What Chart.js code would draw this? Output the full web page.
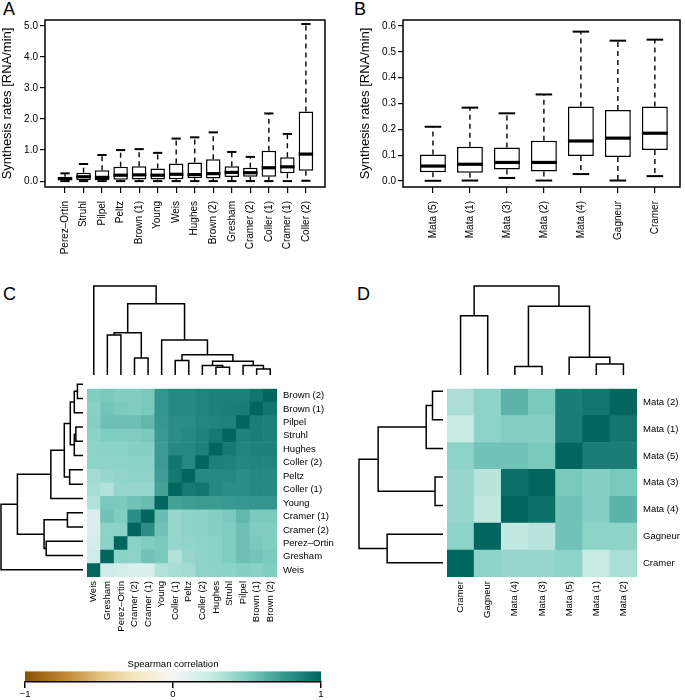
<!DOCTYPE html>
<html>
<head>
<meta charset="utf-8">
<script src="https://cdn.jsdelivr.net/npm/chart.js@4.4.1/dist/chart.umd.min.js"></script>
<style>
  body { margin: 0; background: #fff; }
  #fig { position: relative; width: 685px; height: 700px; overflow: hidden; }
  #fig canvas, .tag { position: absolute; }
  .tag { font: 18px "Liberation Sans", Arial, sans-serif; line-height: 1; }
</style>
</head>
<body>
<div id="fig">
  <div class="tag" style="left:3px;top:0">A</div>
  <div class="tag" style="left:354px;top:0">B</div>
  <div class="tag" style="left:3px;top:285px">C</div>
  <div class="tag" style="left:357px;top:285px">D</div>
  <canvas id="boxA" width="335" height="290" style="left:0;top:0"></canvas>
  <canvas id="boxB" width="327" height="290" style="left:358px;top:0"></canvas>
  <canvas id="treeTopC" width="196" height="95" style="left:84px;top:283px"></canvas>
  <canvas id="treeLeftC" width="86" height="206" style="left:0;top:374px"></canvas>
  <canvas id="heatC" width="250" height="265" style="left:87px;top:377px"></canvas>
  <canvas id="treeTopD" width="196" height="95" style="left:444px;top:283px"></canvas>
  <canvas id="treeLeftD" width="90" height="206" style="left:356px;top:374px"></canvas>
  <canvas id="heatD" width="238" height="265" style="left:447px;top:377px"></canvas>
  <canvas id="cbar" width="340" height="45" style="left:0;top:655px"></canvas>
</div>
<script>
/* ===== A: synthesis rates of the published data sets ===== */
const namesA = ["Perez–Ortin", "Struhl", "Pilpel", "Peltz", "Brown (1)", "Young", "Weis",
                "Hughes", "Brown (2)", "Gresham", "Cramer (2)", "Coller (1)", "Cramer (1)", "Coller (2)"];
const loA  = [0, 0, 0, 0, 0, 0, 0, 0, 0, 0, 0, 0, 0, 0.01];
const q1A  = [0.03, 0.03, 0.03, 0.04, 0.05, 0.05, 0.06, 0.09, 0.08, 0.13, 0.14, 0.14, 0.25, 0.33];
const medA = [0.08, 0.14, 0.12, 0.19, 0.20, 0.19, 0.22, 0.21, 0.24, 0.28, 0.27, 0.43, 0.46, 0.87];
const q3A  = [0.14, 0.27, 0.35, 0.46, 0.48, 0.41, 0.57, 0.60, 0.70, 0.48, 0.43, 0.98, 0.77, 2.24];
const hiA  = [0.25, 0.55, 0.84, 1.00, 1.03, 0.91, 1.37, 1.41, 1.57, 0.94, 0.78, 2.18, 1.52, 5.06];
const ticksA = [0, 1, 2, 3, 4, 5];

/* ===== B: synthesis rates, Mata et al. and others ===== */
const namesB = ["Mata (5)", "Mata (1)", "Mata (3)", "Mata (2)", "Mata (4)", "Gagneur", "Cramer"];
const loB  = [0.001, 0.002, 0.012, 0.002, 0.027, 0.002, 0.019];
const q1B  = [0.034, 0.032, 0.045, 0.037, 0.097, 0.093, 0.120];
const medB = [0.058, 0.065, 0.072, 0.072, 0.155, 0.166, 0.185];
const q3B  = [0.103, 0.133, 0.130, 0.156, 0.288, 0.275, 0.288];
const hiB  = [0.210, 0.284, 0.262, 0.335, 0.578, 0.543, 0.547];
const ticksB = [0, 0.1, 0.2, 0.3, 0.4, 0.5, 0.6];

/* ===== C: Spearman correlation, columns left->right, rows top->bottom ===== */
const colsC = ["Weis", "Gresham", "Perez–Ortin", "Cramer (2)", "Cramer (1)", "Young", "Coller (1)",
               "Peltz", "Coller (2)", "Hughes", "Struhl", "Pilpel", "Brown (1)", "Brown (2)"];
const rowsC = ["Brown (2)", "Brown (1)", "Pilpel", "Struhl", "Hughes", "Coller (2)", "Peltz",
               "Coller (1)", "Young", "Cramer (1)", "Cramer (2)", "Perez–Ortin", "Gresham", "Weis"];
const corrC = [
  [.50, .52, .50, .50, .52, .76, .82, .82, .84, .86, .86, .86, .92, 1],
  [.47, .54, .52, .50, .52, .76, .82, .82, .84, .86, .87, .88, 1, .92],
  [.48, .56, .56, .56, .60, .75, .80, .80, .83, .84, .85, 1, .88, .86],
  [.46, .50, .50, .50, .52, .74, .80, .82, .85, .90, 1, .85, .87, .86],
  [.45, .46, .46, .48, .48, .73, .82, .82, .86, 1, .90, .84, .86, .86],
  [.45, .45, .45, .46, .46, .73, .92, .82, 1, .86, .85, .83, .84, .84],
  [.38, .42, .44, .45, .45, .72, .90, 1, .82, .82, .82, .80, .82, .82],
  [.36, .32, .42, .42, .42, .70, 1, .90, .92, .82, .80, .80, .82, .82],
  [.32, .52, .52, .55, .58, 1, .70, .72, .73, .73, .74, .75, .76, .76],
  [.13, .55, .50, .80, 1, .58, .42, .45, .46, .48, .52, .60, .52, .52],
  [.13, .45, .46, 1, .80, .55, .42, .45, .46, .48, .50, .56, .50, .50],
  [.18, .46, 1, .46, .50, .52, .42, .44, .45, .46, .50, .56, .52, .50],
  [.20, 1, .46, .45, .55, .52, .32, .42, .45, .46, .50, .56, .54, .52],
  [1, .20, .18, .13, .13, .32, .36, .38, .45, .45, .46, .48, .47, .50]
];
// hclust style: negative = leaf (column index + 1), positive = earlier merge
const mergeC  = [[-13, -14], [-10, -11], [-9, 2], [-12, 1], [3, 4], [-7, -8], [-4, -5],
                 [6, 5], [-6, 8], [-2, -3], [10, 7], [11, 9], [-1, 12]];
const heightC = [0.068, 0.087, 0.106, 0.106, 0.155, 0.163, 0.19, 0.228, 0.392, 0.449, 0.475, 0.80, 1.0];

/* ===== D ===== */
const colsD = ["Cramer", "Gagneur", "Mata (4)", "Mata (3)", "Mata (5)", "Mata (1)", "Mata (2)"];
const rowsD = ["Mata (2)", "Mata (1)", "Mata (5)", "Mata (3)", "Mata (4)", "Gagneur", "Cramer"];
const corrD = [
  [.35, .45, .62, .52, .88, .92, 1],
  [.25, .45, .48, .48, .88, 1, .92],
  [.45, .55, .55, .52, 1, .88, .88],
  [.42, .30, .95, 1, .52, .48, .52],
  [.42, .27, 1, .95, .55, .48, .62],
  [.45, 1, .27, .30, .55, .45, .45],
  [1, .45, .42, .42, .45, .25, .35]
];
const mergeD  = [[-3, -4], [-6, -7], [-5, 2], [-1, -2], [1, 3], [4, 5]];
const heightD = [0.095, 0.125, 0.20, 0.665, 0.772, 1.0];

/* ===== colour key ===== */
const palStops  = [-1, -0.75, -0.5, -0.25, 0, 0.25, 0.5, 0.75, 1];
const palColors = ["#8c510a", "#bf812d", "#dfc27d", "#f6e8c3", "#f5f5f5", "#c7eae5", "#80cdc1", "#35978f", "#01665e"];
const ticksKey  = [-1, 0, 1];

Chart.defaults.font.family = '"Liberation Sans", Arial, sans-serif';
Chart.defaults.color = "#000";

const hexRgb = h => [1, 3, 5].map(i => parseInt(h.slice(i, i + 2), 16));
function corrColor(v) {
  let i = 0;
  while (i < palStops.length - 2 && v > palStops[i + 1]) i++;
  const t = (v - palStops[i]) / (palStops[i + 1] - palStops[i]);
  const a = hexRgb(palColors[i]), b = hexRgb(palColors[i + 1]);
  return `rgb(${a.map((c, k) => Math.round(c + (b[k] - c) * t)).join(",")})`;
}

const frame = {
  id: "frame",
  afterDraw(chart) {
    const { ctx, chartArea: a } = chart;
    ctx.save();
    ctx.strokeStyle = "#000"; ctx.lineWidth = 1.5;
    ctx.strokeRect(a.left, a.top, a.right - a.left, a.bottom - a.top);
    ctx.restore();
  }
};

function boxChart(id, names, lo, q1, med, q3, hi, yTicks, yMin, yMax, xMin, xMax, barPct, padR) {
  const whiskers = {
    id: "whiskers",
    afterDatasetsDraw(chart) {
      const { ctx, scales: { x, y } } = chart;
      const bars = chart.getDatasetMeta(0).data;
      const seg = (x0, y0, x1, y1) => { ctx.beginPath(); ctx.moveTo(x0, y0); ctx.lineTo(x1, y1); ctx.stroke(); };
      ctx.save();
      ctx.strokeStyle = "#000";
      names.forEach((n, i) => {
        const cx = x.getPixelForValue(i), w = bars[i].width;
        ctx.setLineDash([5, 4]); ctx.lineWidth = 1.4;
        seg(cx, y.getPixelForValue(q3[i]), cx, y.getPixelForValue(hi[i]));
        seg(cx, y.getPixelForValue(q1[i]), cx, y.getPixelForValue(lo[i]));
        ctx.setLineDash([]); ctx.lineWidth = 2;
        [lo[i], hi[i]].forEach(v => seg(cx - w * 0.32, y.getPixelForValue(v), cx + w * 0.32, y.getPixelForValue(v)));
        ctx.lineWidth = 3.2;
        seg(cx - w / 2, y.getPixelForValue(med[i]), cx + w / 2, y.getPixelForValue(med[i]));
      });
      ctx.restore();
    }
  };
  new Chart(id, {
    type: "bar",
    data: {
      datasets: [{
        data: names.map((n, i) => ({ x: i, y: [q1[i], q3[i]] })),
        backgroundColor: "#fff", borderColor: "#000", borderWidth: 1.5, borderSkipped: false,
        barPercentage: barPct, categoryPercentage: 1
      }]
    },
    options: {
      responsive: false, animation: false, events: [],
      layout: { padding: { top: 20, right: padR, left: 0, bottom: 0 } },
      plugins: { legend: { display: false }, tooltip: { enabled: false } },
      scales: {
        x: {
          type: "linear", min: xMin, max: xMax, offset: false,
          afterBuildTicks: s => { s.ticks = names.map((n, i) => ({ value: i })); },
          afterFit: s => { s.height = 103; },
          ticks: { callback: v => names[v], autoSkip: false, minRotation: 90, maxRotation: 90, padding: 8, font: { size: 10 } },
          grid: { offset: false, drawOnChartArea: false, tickLength: 6, color: "#000", lineWidth: 1.2 },
          border: { display: false }
        },
        y: {
          min: yMin, max: yMax,
          afterBuildTicks: s => { s.ticks = yTicks.map(v => ({ value: v })); },
          afterFit: s => { s.width = 45; },
          ticks: { callback: v => v.toFixed(1), padding: 2, font: { size: 10 } },
          grid: { drawOnChartArea: false, tickLength: 5, color: "#000", lineWidth: 1.2 },
          border: { display: false },
          title: { display: true, text: "Synthesis rates [RNA/min]", font: { size: 13 }, padding: 0 }
        }
      }
    },
    plugins: [frame, whiskers]
  });
}

function heatChart(id, cols, rows, corr, rightW) {
  new Chart(id, {
    type: "bar",
    data: {
      labels: cols,
      datasets: rows.map((r, k) => ({
        label: r,
        data: cols.map(() => 1),
        backgroundColor: corr[k].map(corrColor),
        borderWidth: 0, barPercentage: 1, categoryPercentage: 1
      })).reverse()
    },
    options: {
      responsive: false, animation: false, events: [],
      layout: { padding: 0 },
      plugins: { legend: { display: false }, tooltip: { enabled: false } },
      scales: {
        x: {
          stacked: true,
          afterFit: s => { s.height = 65; },
          ticks: { autoSkip: false, minRotation: 90, maxRotation: 90, padding: 4, font: { size: 9.5 } },
          grid: { display: false, drawTicks: false }, border: { display: false }
        },
        y: {
          stacked: true, position: "right", min: 0, max: rows.length,
          afterBuildTicks: s => { s.ticks = rows.map((r, k) => ({ value: k + 0.5 })); },
          afterFit: s => { s.width = rightW; },
          ticks: { callback: (v, i) => rows[rows.length - 1 - i], padding: 6, font: { size: 9.5 } },
          grid: { display: false, drawTicks: false }, border: { display: false }
        }
      }
    }
  });
}

function treeChart(id, merge, heights, nLeaves, top, pad) {
  const pos = [], hgt = [];
  const datasets = merge.map(([a, b], m) => {
    const pa = a < 0 ? -a - 1 : pos[a - 1], ha = a < 0 ? 0 : hgt[a - 1];
    const pb = b < 0 ? -b - 1 : pos[b - 1], hb = b < 0 ? 0 : hgt[b - 1];
    const h = heights[m];
    pos[m] = (pa + pb) / 2; hgt[m] = h;
    const pts = [[pa, ha], [pa, h], [pb, h], [pb, hb]];
    return {
      data: pts.map(([p, v]) => top ? { x: p, y: v } : { x: v, y: p }),
      showLine: true, borderColor: "#000", borderWidth: 1.5, pointRadius: 0, clip: false
    };
  });
  const leafAxis = { min: -0.5, max: nLeaves - 0.5, display: false };
  const hAxis = { min: 0, max: 1, display: false, reverse: !top };
  new Chart(id, {
    type: "scatter",
    data: { datasets },
    options: {
      responsive: false, animation: false, events: [],
      layout: { padding: pad },
      plugins: { legend: { display: false }, tooltip: { enabled: false } },
      scales: top ? { x: leafAxis, y: hAxis } : { x: hAxis, y: leafAxis }
    }
  });
}

const gradient = {
  id: "gradient",
  beforeDraw(chart) {
    const { ctx, chartArea: a, scales: { x } } = chart;
    const g = ctx.createLinearGradient(x.getPixelForValue(palStops[0]), 0, x.getPixelForValue(palStops[palStops.length - 1]), 0);
    palStops.forEach((s, i) => g.addColorStop((s - palStops[0]) / (palStops[palStops.length - 1] - palStops[0]), palColors[i]));
    ctx.save();
    ctx.fillStyle = g;
    ctx.fillRect(a.left, a.top, a.right - a.left, a.bottom - a.top);
    ctx.restore();
  }
};

boxChart("boxA", namesA, loA, q1A, medA, q3A, hiA, ticksA, -0.19, 5.19, -1.08, 14.03, 0.78, 10);
boxChart("boxB", namesB, loB, q1B, medB, q3B, hiB, ticksB, -0.023, 0.623, -0.81, 6.68, 0.7, 5);

treeChart("treeTopC", mergeC, heightC, colsC.length, true, 3);
treeChart("treeLeftC", mergeC, heightC, colsC.length, false, { left: 1, right: 3, top: 3, bottom: 3 });
heatChart("heatC", colsC, rowsC, corrC, 60);

treeChart("treeTopD", mergeD, heightD, colsD.length, true, 3);
treeChart("treeLeftD", mergeD, heightD, colsD.length, false, 3);
heatChart("heatD", colsD, rowsD, corrD, 48);

new Chart("cbar", {
  type: "scatter",
  data: { datasets: [] },
  options: {
    responsive: false, animation: false, events: [],
    layout: { padding: { left: 25, right: 19, top: 0, bottom: 0 } },
    plugins: {
      legend: { display: false }, tooltip: { enabled: false },
      title: { display: true, text: "Spearman correlation", color: "#000",
               font: { size: 9.5, weight: "normal" }, padding: { top: 4, bottom: 1 } }
    },
    scales: {
      x: {
        min: -1, max: 1,
        afterBuildTicks: s => { s.ticks = ticksKey.map(v => ({ value: v })); },
        afterFit: s => { s.height = 18; },
        ticks: { callback: v => v < 0 ? "\u2212" + (-v) : String(v), padding: 1, font: { size: 9.5 } },
        grid: { drawOnChartArea: false, tickLength: 6, color: "#000", lineWidth: 1.5 },
        border: { display: true, color: "#000", width: 1.5 }
      },
      y: { display: false }
    }
  },
  plugins: [gradient]
});
</script>
</body>
</html>
